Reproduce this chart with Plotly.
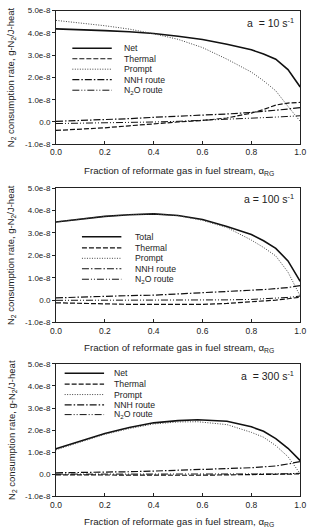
import plotly.graph_objects as go

# ---------------- data (values in units of 1e-8 g-N2/J-heat) ----------------
x1 = [0.0, 0.1, 0.2, 0.3, 0.4, 0.5, 0.6, 0.7, 0.8, 0.85, 0.9, 0.95, 1.0]
net1 = [4.18, 4.15, 4.10, 4.05, 3.97, 3.85, 3.70, 3.49, 3.24, 3.05, 2.82, 2.35, 1.57]
thermal1 = [-0.38, -0.33, -0.26, -0.17, -0.07, 0.00, 0.07, 0.18, 0.40, 0.56, 0.76, 0.85, 0.88]
prompt1 = [4.56, 4.45, 4.32, 4.17, 3.96, 3.71, 3.34, 2.82, 2.24, 1.85, 1.40, 0.70, 0.03]
nnh1 = [0.03, 0.06, 0.10, 0.15, 0.21, 0.25, 0.29, 0.36, 0.43, 0.47, 0.51, 0.58, 0.65]
n2o1 = [-0.07, -0.06, -0.04, -0.02, 0.00, 0.03, 0.07, 0.11, 0.16, 0.19, 0.22, 0.25, 0.28]

x2 = [0.0, 0.1, 0.2, 0.3, 0.4, 0.5, 0.6, 0.7, 0.8, 0.85, 0.9, 0.95, 1.0]
total2 = [3.49, 3.62, 3.74, 3.81, 3.85, 3.78, 3.60, 3.29, 2.93, 2.65, 2.31, 1.75, 0.84]
thermal2 = [-0.12, -0.15, -0.18, -0.19, -0.19, -0.19, -0.19, -0.15, -0.09, -0.05, 0.00, 0.06, 0.13]
prompt2 = [3.49, 3.62, 3.74, 3.81, 3.85, 3.77, 3.56, 3.24, 2.68, 2.35, 1.97, 1.25, 0.18]
nnh2 = [0.10, 0.14, 0.18, 0.20, 0.22, 0.27, 0.32, 0.38, 0.44, 0.47, 0.51, 0.56, 0.65]
n2o2 = [-0.01, -0.01, -0.01, -0.01, -0.01, -0.01, 0.00, 0.01, 0.03, 0.05, 0.08, 0.12, 0.18]

x3 = [0.0, 0.1, 0.2, 0.3, 0.4, 0.5, 0.58, 0.7, 0.8, 0.85, 0.9, 0.95, 1.0]
net3 = [1.16, 1.51, 1.85, 2.12, 2.33, 2.43, 2.47, 2.40, 2.15, 1.95, 1.62, 1.18, 0.62]
thermal3 = [-0.02, -0.03, -0.03, -0.04, -0.04, -0.04, -0.04, -0.03, -0.02, -0.01, 0.00, 0.01, 0.02]
prompt3 = [1.11, 1.47, 1.81, 2.07, 2.28, 2.37, 2.38, 2.25, 1.90, 1.68, 1.30, 0.80, 0.03]
nnh3 = [0.07, 0.08, 0.10, 0.12, 0.15, 0.18, 0.21, 0.26, 0.30, 0.34, 0.38, 0.47, 0.58]
n2o3 = [0.01, 0.01, 0.00, 0.00, -0.01, -0.01, -0.01, 0.00, 0.01, 0.02, 0.02, 0.03, 0.05]

panels = [
    dict(x=x1, series=[net1, thermal1, prompt1, nnh1, n2o1],
         names=["Net", "Thermal", "Prompt", "NNH route", "N<sub>2</sub>O route"],
         label="a  = 10 s<sup>-1</sup>"),
    dict(x=x2, series=[total2, thermal2, prompt2, nnh2, n2o2],
         names=["Total", "Thermal", "Prompt", "NNH route", "N<sub>2</sub>O route"],
         label="a = 100 s<sup>-1</sup>"),
    dict(x=x3, series=[net3, thermal3, prompt3, nnh3, n2o3],
         names=["Net", "Thermal", "Prompt", "NNH route", "N<sub>2</sub>O route"],
         label="a  = 300 s<sup>-1</sup>"),
]

y_tickvals = [-1, 0, 1, 2, 3, 4, 5]
y_ticktext = ["-1.0e-8", "0.0", "1.0e-8", "2.0e-8", "3.0e-8", "4.0e-8", "5.0e-8"]
x_tickvals = [0.0, 0.2, 0.4, 0.6, 0.8, 1.0]

# ---------------- styling ----------------
W, H = 311, 530
FONT = "Liberation Sans, Arial, sans-serif"
TXT = "#222"
styles = [
    dict(color="#111", width=1.6, dash="solid"),
    dict(color="#111", width=1.2, dash="5px,2px"),
    dict(color="#444", width=1.0, dash="1px,1.5px"),
    dict(color="#111", width=1.2, dash="7px,2px,1.5px,2px"),
    dict(color="#111", width=1.0, dash="7px,2px,1px,2px,1px,2px"),
]

def py(pix):
    return 1 - pix / H

def px(pix):
    return pix / W

# plot area pixel boxes (top, bottom)
boxes = [(6.7, 142.7), (187.3, 324.0), (366.0, 501.0)]
leg_rows = [[45, 55.7, 66.3, 77, 87.7],
            [236.7, 248, 258.7, 269.3, 280],
            [375.7, 386.7, 397.3, 407.7, 417.7]]
leg_x = [(69, 110, 121), (79, 120, 132), (61, 102, 110)]
label_y = [19, 198, 378]
xtitle_y = [170, 350, 527]

x_left, x_right = 52, 306

fig = go.Figure()
shapes = []
annotations = []
layout = dict(width=W, height=H, margin=dict(l=0, r=0, t=0, b=0),
              paper_bgcolor="white", plot_bgcolor="white", showlegend=False,
              font=dict(family=FONT, color=TXT))

for i, p in enumerate(panels):
    k = "" if i == 0 else str(i + 1)
    for s, st in zip(p["series"], styles):
        fig.add_trace(go.Scatter(x=p["x"], y=s, mode="lines", line=st,
                                 xaxis="x" + k, yaxis="y" + k, hoverinfo="skip"))
    top, bot = boxes[i]
    layout["xaxis" + k] = dict(domain=[px(x_left), px(x_right)], range=[0, 1],
                               anchor="y" + k, tickvals=x_tickvals, tickformat=".1f",
                               ticks="inside", ticklen=3, tickcolor="#222",
                               ticklabeloverflow="allow",
                               showline=True, mirror=True, linecolor="#222", linewidth=1,
                               showgrid=False, zeroline=False,
                               tickfont=dict(size=8.5, family=FONT, color=TXT))
    layout["yaxis" + k] = dict(domain=[py(bot), py(top)], range=[-1, 5],
                               anchor="x" + k, tickvals=y_tickvals, ticktext=y_ticktext,
                               ticks="outside", ticklen=3, tickcolor="#222",
                               ticklabeloverflow="allow",
                               showline=True, mirror=True, linecolor="#222", linewidth=1,
                               showgrid=False, zeroline=False,
                               tickfont=dict(size=8, family=FONT, color=TXT))
    # manual legend
    lx0, lx1, tx = leg_x[i]
    for ry, st, nm in zip(leg_rows[i], styles, p["names"]):
        shapes.append(dict(type="line", xref="paper", yref="paper",
                           x0=px(lx0), x1=px(lx1), y0=py(ry), y1=py(ry),
                           line=dict(color=st["color"], width=st["width"], dash=st["dash"])))
        annotations.append(dict(xref="paper", yref="paper", x=px(tx), y=py(ry),
                                xanchor="left", yanchor="middle", showarrow=False,
                                text=nm, font=dict(size=8.7, family=FONT, color=TXT)))
    annotations.append(dict(xref="paper", yref="paper", x=px(302), y=py(label_y[i]),
                            xanchor="right", yanchor="middle", showarrow=False,
                            text=p["label"], font=dict(size=10.5, family=FONT, color=TXT)))
    annotations.append(dict(xref="paper", yref="paper", x=px((x_left + x_right) / 2 + 1),
                            y=py(xtitle_y[i]), xanchor="center", yanchor="middle",
                            showarrow=False,
                            text="Fraction of reformate gas in fuel stream, α<sub>RG</sub>",
                            font=dict(size=9.7, family=FONT, color=TXT)))
    annotations.append(dict(xref="paper", yref="paper", x=px(6), y=py((top + bot) / 2),
                            xanchor="center", yanchor="middle", showarrow=False, textangle=-90,
                            text="N<sub>2</sub> consumption rate, g-N<sub>2</sub>/J-heat",
                            font=dict(size=9.5, family=FONT, color=TXT)))

layout["shapes"] = shapes
layout["annotations"] = annotations
fig.update_layout(**layout)
fig.write_html("out.html")
